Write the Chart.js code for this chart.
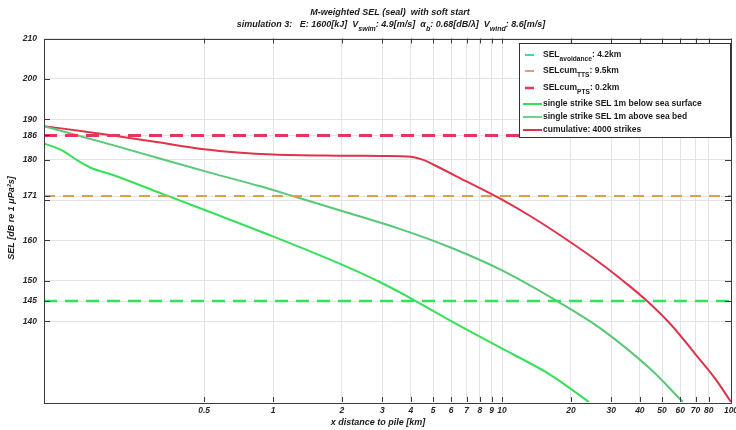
<!DOCTYPE html>
<html>
<head>
<meta charset="utf-8">
<script src="https://cdn.jsdelivr.net/npm/chart.js@4.4.1/dist/chart.umd.min.js"></script>
<style>
html, body { margin: 0; padding: 0; background: #fff; }
</style>
</head>
<body>
<canvas id="myChart1" width="736" height="430"></canvas>
<script>
// distances in km, levels in dB re 1 uPa^2 s
var distCum = [0.1, 0.15, 0.2, 0.3, 0.5, 0.7, 1, 2, 3, 4, 4.5, 5, 7, 10, 13.5, 20, 27, 35, 43, 55, 70, 85, 100];
var selCum  = [188.3, 187, 186, 184.5, 182.6, 181.8, 181.3, 181, 180.9, 180.7, 180, 178.8, 174.6, 170.1, 165.8, 159.5, 154.3, 149.3, 145, 139, 131.8, 125.9, 120];

var distSurf = [0.1, 0.12, 0.14, 0.16, 0.2, 0.32, 0.5, 1, 2, 3, 4.2, 6, 9.8, 16.2, 24];
var selSurf  = [184, 182.3, 179.8, 178, 176.2, 171.8, 167.6, 161, 154, 149.4, 145, 140, 133.5, 126.8, 120];

var distBed = [0.1, 0.2, 0.32, 0.53, 0.88, 1.22, 2, 3.6, 6, 10, 17.4, 26.8, 44, 61.7];
var selBed  = [188.3, 183.6, 180.3, 176.8, 173.4, 171, 167.3, 162.8, 158.2, 152.6, 145, 138.3, 128.4, 120];

var thrPTS = 186, thrTTS = 171, thrAvoid = 145;
var thrRange = [0.1, 100];

var xTicks = [0.5, 1, 2, 3, 4, 5, 6, 7, 8, 9, 10, 20, 30, 40, 50, 60, 70, 80, 100];
var yTicks = [140, 145, 150, 160, 170, 171, 180, 186, 190, 200, 210];

var FONT = '"Liberation Sans", Arial, sans-serif';

function pts(xs, ys) {
	return xs.map(function(x, i) { return { x: x, y: ys[i] }; });
}
function hline(v) {
	return thrRange.map(function(x) { return { x: x, y: v }; });
}

function drawParts(ctx, parts, x, y, size, style, align) {
	var w = 0;
	parts.forEach(function(p) {
		ctx.font = style + ' ' + (p[1] ? size * 0.78 : size) + 'px ' + FONT;
		w += ctx.measureText(p[0]).width;
	});
	var cx = align === 'center' ? x - w / 2 : x;
	ctx.textAlign = 'left';
	ctx.textBaseline = 'middle';
	parts.forEach(function(p) {
		ctx.font = style + ' ' + (p[1] ? size * 0.78 : size) + 'px ' + FONT;
		ctx.fillText(p[0], cx, p[1] ? y + size * 0.45 : y);
		cx += ctx.measureText(p[0]).width;
	});
}

var decor = {
	id: 'decor',
	afterDraw: function(chart) {
		var ctx = chart.ctx, a = chart.chartArea;
		var xs = chart.scales.x, ys = chart.scales.y;
		ctx.save();

		// box and inward ticks
		ctx.strokeStyle = '#3c3c3c';
		ctx.lineWidth = 1;
		ctx.strokeRect(Math.round(a.left) + 0.5, Math.round(a.top) + 0.5, Math.round(a.right - a.left), Math.round(a.bottom - a.top));
		ctx.beginPath();
		xTicks.forEach(function(t) {
			var px = Math.round(xs.getPixelForValue(t)) + 0.5;
			ctx.moveTo(px, a.bottom); ctx.lineTo(px, a.bottom - 5);
			ctx.moveTo(px, a.top); ctx.lineTo(px, a.top + 5);
		});
		yTicks.forEach(function(t) {
			var py = Math.round(ys.getPixelForValue(t)) + 0.5;
			ctx.moveTo(a.left, py); ctx.lineTo(a.left + 6, py);
			ctx.moveTo(a.right, py); ctx.lineTo(a.right - 6, py);
		});
		ctx.stroke();

		// titles
		ctx.fillStyle = '#1a1a1a';
		drawParts(ctx, [['M-weighted SEL (seal)  with soft start']], 390, 13, 9, 'italic bold', 'center');
		drawParts(ctx, [
			['simulation 3:   E: 1600[kJ]  V'], ['swim', 1], [': 4.9[m/s]  \u03b1'], ['b', 1],
			[': 0.68[dB/\u03bb]  V'], ['wind', 1], [': 8.6[m/s]']
		], 391, 25, 9, 'italic bold', 'center');
		drawParts(ctx, [['x distance to pile [km]']], 378, 423, 9, 'italic bold', 'center');
		ctx.save();
		ctx.translate(12, 218);
		ctx.rotate(-Math.PI / 2);
		drawParts(ctx, [['SEL [dB re 1 \u03bcPa\u00b2s]']], 0, 0, 9, 'italic bold', 'center');
		ctx.restore();

		// legend
		var lx = 519.5, ly = 43.5, lw = 211, lh = 94;
		ctx.fillStyle = '#fff';
		ctx.fillRect(lx, ly, lw, lh);
		ctx.strokeStyle = '#333';
		ctx.strokeRect(lx, ly, lw, lh);
		var rows = [
			{ y: 55, c: '#4fd49a', s: 525, e: 534, w: 2, parts: [['SEL'], ['avoidance', 1], [': 4.2km']] },
			{ y: 71, c: '#e3a06e', s: 525, e: 534, w: 2, parts: [['SELcum'], ['TTS', 1], [': 9.5km']] },
			{ y: 88, c: '#e8345f', s: 525, e: 534, w: 2.5, parts: [['SELcum'], ['PTS', 1], [': 0.2km']] },
			{ y: 104, c: '#35e05a', s: 523, e: 542, w: 2, parts: [['single strike SEL 1m below sea surface']] },
			{ y: 117, c: '#6fd489', s: 523, e: 542, w: 2, parts: [['single strike SEL 1m above sea bed']] },
			{ y: 130, c: '#e0334a', s: 523, e: 542, w: 2, parts: [['cumulative: 4000 strikes']] }
		];
		rows.forEach(function(r) {
			ctx.strokeStyle = r.c;
			ctx.lineWidth = r.w;
			ctx.beginPath();
			ctx.moveTo(r.s, r.y); ctx.lineTo(r.e, r.y);
			ctx.stroke();
			ctx.fillStyle = '#1a1a1a';
			drawParts(ctx, r.parts, 543, r.y, 8.5, 'bold', 'left');
		});
		ctx.restore();
	}
};

var ctx = document.getElementById('myChart1').getContext('2d');
var myChart = new Chart(ctx, {
	type: 'line',
	data: {
		datasets: [
			{ data: hline(thrPTS), borderColor: '#e8345f', borderWidth: 3, borderDash: [13, 8] },
			{ data: hline(thrTTS), borderColor: '#d9a14a', borderWidth: 2.2, borderDash: [11, 8] },
			{ data: hline(thrAvoid), borderColor: '#35e05a', borderWidth: 2.5, borderDash: [13, 8] },
			{ data: pts(distBed, selBed), borderColor: '#57c877', borderWidth: 2, cubicInterpolationMode: 'monotone' },
			{ data: pts(distSurf, selSurf), borderColor: '#35e05a', borderWidth: 2, cubicInterpolationMode: 'monotone' },
			{ data: pts(distCum, selCum), borderColor: '#e0334a', borderWidth: 2, cubicInterpolationMode: 'monotone' }
		]
	},
	options: {
		responsive: false,
		animation: false,
		layout: { padding: { top: 38.5, right: 5, left: 0, bottom: 0 } },
		elements: { point: { radius: 0 } },
		plugins: { legend: { display: false }, title: { display: false }, tooltip: { enabled: false } },
		scales: {
			x: {
				type: 'logarithmic', min: 0.1, max: 100,
				afterBuildTicks: function(s) { s.ticks = xTicks.map(function(v) { return { value: v }; }); },
				afterFit: function(s) { s.height = 28; s.paddingLeft = 0; s.paddingRight = 0; },
				ticks: {
					autoSkip: false, maxRotation: 0, padding: 4, color: '#262626',
					font: { family: FONT, size: 8.5, weight: 'bold', style: 'italic' },
					callback: function(v) { return String(v); }
				},
				grid: { color: '#e4e4e4', drawTicks: false },
				border: { display: false }
			},
			y: {
				type: 'linear', min: 120, max: 210,
				afterBuildTicks: function(s) { s.ticks = yTicks.map(function(v) { return { value: v }; }); },
				afterFit: function(s) { s.width = 44; },
				ticks: {
					autoSkip: false, padding: 7, color: '#262626',
					font: { family: FONT, size: 8.5, weight: 'bold', style: 'italic' },
					callback: function(v) { return v === 170 ? '' : String(v); }
				},
				grid: { color: '#e4e4e4', drawTicks: false },
				border: { display: false }
			}
		}
	},
	plugins: [decor]
});
</script>
</body>
</html>
